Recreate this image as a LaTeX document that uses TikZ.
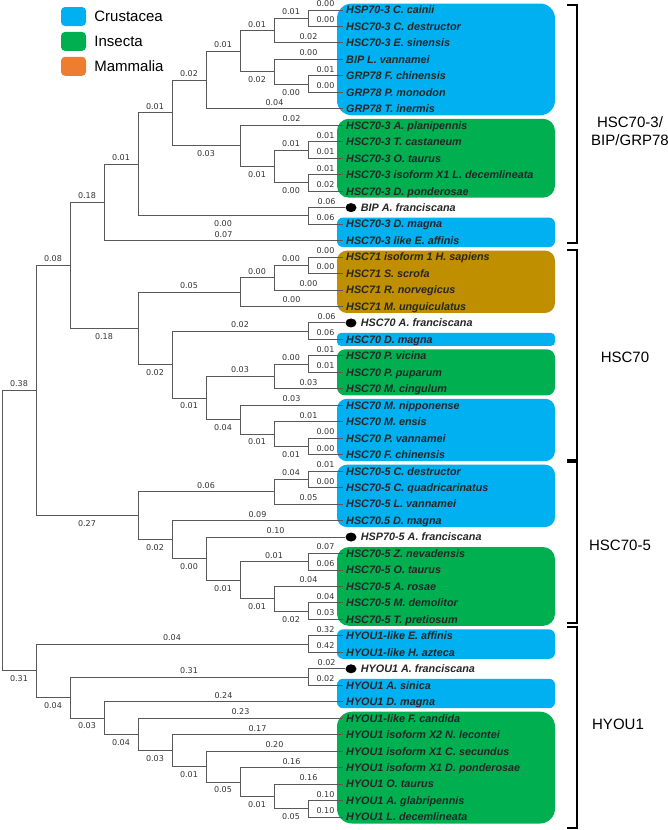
\documentclass[tikz,border=0pt]{standalone}
\usepackage{fontspec}
\setsansfont{Liberation Sans}
\newfontfamily\numfont{DejaVu Sans}
\usetikzlibrary{shapes.geometric, positioning, calc}

\definecolor{crus}{RGB}{0,176,240}
\definecolor{ins}{RGB}{0,176,80}
\definecolor{mam}{RGB}{191,143,0}
\definecolor{mamkey}{RGB}{237,125,49}

\newcommand{\leafy}[1]{10+16.47*(#1-1)}
% clade: name, level, upper child, lower child
\newcommand{\clade}[4]{\path let \p1=(#3), \p2=(#4) in ({(2+34*#2)*1pt}, {(\y1+\y2)/2}) coordinate (#1);}

\begin{document}
\begin{tikzpicture}[
    x=1pt, y=-1pt,
    every node/.style={font=\sffamily},
    leaf/.style={anchor=west, inner xsep=3pt, inner ysep=0pt, text height=7.7pt, text depth=0pt, font=\sffamily\bfseries\itshape\fontsize{10.8}{11}\selectfont, text=black!85},
    fdot/.style={ellipse, fill=black, minimum width=11pt, minimum height=9pt, inner sep=0pt},
    branch/.style={draw=black!65, line width=0.9pt},
    lenup/.style={above=2.5pt, pos=0.75, inner sep=0.5pt, font=\numfont\fontsize{8}{8}\selectfont, text=black!80},
    lendn/.style={below=4pt, pos=0.75, inner sep=0.5pt, font=\numfont\fontsize{8}{8}\selectfont, text=black!80},
    group/.style={font=\sffamily\fontsize{15}{18}\selectfont, align=center},
    keybox/.style={minimum width=25pt, minimum height=19pt, rounded corners=4pt, inner sep=0pt},
    keytext/.style={font=\sffamily\fontsize{15}{18}\selectfont, inner sep=0pt},
    bracket/.style={draw=black, line width=1.8pt}
]
\useasboundingbox (0,0) rectangle (668,830);

% Legend
\node[keybox, fill=crus] (kcrus) at (73.5,16.5) {};
\node[keybox, fill=ins, below=5.5pt of kcrus] (kins) {};
\node[keybox, fill=mamkey, below=5.5pt of kins] (kmam) {};
\node[keytext, right=8pt of kcrus] (tcrus) {Crustacea};
\node[keytext, right=8pt of kins] (tins) {Insecta};
\node[keytext, right=8pt of kmam] (tmam) {Mammalia};

% Taxon boxes
\foreach \a/\b/\c/\r in {1/7/crus/15, 8/12/ins/12, 14/15/crus/6, 16/19/mam/10, 21/21/crus/4,
    22/24/ins/8, 25/28/crus/10, 29/32/crus/10, 34/38/ins/12, 39/40/crus/6, 42/43/crus/6, 44/50/ins/15}
    \fill[\c, rounded corners=\r pt] (337,{\leafy{\a}-6.5}) rectangle (555,{\leafy{\b}+6.5});

% Leaves
\foreach \i/\txt in {1/{HSP70-3 C. cainii}, 2/{HSC70-3 C. destructor}, 3/{HSC70-3 E. sinensis},
    4/{BIP L. vannamei}, 5/{GRP78 F. chinensis}, 6/{GRP78 P. monodon}, 7/{GRP78 T. inermis},
    8/{HSC70-3 A. planipennis}, 9/{HSC70-3 T. castaneum}, 10/{HSC70-3 O. taurus},
    11/{HSC70-3 isoform X1 L. decemlineata}, 12/{HSC70-3 D. ponderosae}, 14/{HSC70-3 D. magna},
    15/{HSC70-3 like E. affinis}, 16/{HSC71 isoform 1 H. sapiens}, 17/{HSC71 S. scrofa},
    18/{HSC71 R. norvegicus}, 19/{HSC71 M. unguiculatus}, 21/{HSC70 D. magna},
    22/{HSC70 P. vicina}, 23/{HSC70 P. puparum}, 24/{HSC70 M. cingulum},
    25/{HSC70 M. nipponense}, 26/{HSC70 M. ensis}, 27/{HSC70 P. vannamei},
    28/{HSC70 F. chinensis}, 29/{HSC70-5 C. destructor}, 30/{HSC70-5 C. quadricarinatus},
    31/{HSC70-5 L. vannamei}, 32/{HSC70.5 D. magna}, 34/{HSC70-5 Z. nevadensis},
    35/{HSC70-5 O. taurus}, 36/{HSC70-5 A. rosae}, 37/{HSC70-5 M. demolitor},
    38/{HSC70-5 T. pretiosum}, 39/{HYOU1-like E. affinis}, 40/{HYOU1-like H. azteca},
    42/{HYOU1 A. sinica}, 43/{HYOU1 D. magna}, 44/{HYOU1-like F. candida},
    45/{HYOU1 isoform X2 N. lecontei}, 46/{HYOU1 isoform X1 C. secundus},
    47/{HYOU1 isoform X1 D. ponderosae}, 48/{HYOU1 O. taurus}, 49/{HYOU1 A. glabripennis},
    50/{HYOU1 L. decemlineata}}
    \node[leaf] (l\i) at (343,{\leafy{\i}}) {\txt};

% Artemia franciscana
\foreach \i/\txt in {13/{BIP A. franciscana}, 20/{HSC70 A. franciscana},
    33/{HSP70-5 A. franciscana}, 41/{HYOU1 A. franciscana}} {
    \node[fdot] (d\i) at (351,{\leafy{\i}}) {};
    \node[leaf, right=1pt of d\i] (l\i) {\txt};
}

% Clades
\clade{a1}{9}{l1}{l2}   \clade{a2}{8}{a1}{l3}   \clade{a3}{9}{l5}{l6}
\clade{a4}{8}{l4}{a3}   \clade{a5}{7}{a2}{a4}   \clade{a6}{6}{a5}{l7}
\clade{a7}{9}{l9}{l10}  \clade{a8}{9}{l11}{l12} \clade{a9}{8}{a7}{a8}
\clade{a10}{7}{l8}{a9}  \clade{a11}{5}{a6}{a10} \clade{a12}{9}{d13}{l14}
\clade{a13}{4}{a11}{a12} \clade{a14}{3}{a13}{l15}
\clade{b1}{9}{l16}{l17} \clade{b2}{8}{b1}{l18}  \clade{b3}{7}{b2}{l19}
\clade{b4}{9}{d20}{l21} \clade{b5}{9}{l22}{l23} \clade{b6}{8}{b5}{l24}
\clade{b7}{9}{l27}{l28} \clade{b8}{8}{l26}{b7}  \clade{b9}{7}{l25}{b8}
\clade{b10}{6}{b6}{b9}  \clade{b11}{5}{b4}{b10} \clade{b12}{4}{b3}{b11}
\clade{m}{2}{a14}{b12}
\clade{c1}{9}{l29}{l30} \clade{c2}{8}{c1}{l31}  \clade{c3}{9}{l34}{l35}
\clade{c4}{9}{l37}{l38} \clade{c5}{8}{l36}{c4}  \clade{c6}{7}{c3}{c5}
\clade{c7}{6}{d33}{c6}  \clade{c8}{5}{l32}{c7}  \clade{c9}{4}{c2}{c8}
\clade{o}{1}{m}{c9}
\clade{e1}{9}{l39}{l40} \clade{e2}{9}{d41}{l42} \clade{e3}{9}{l49}{l50}
\clade{e4}{8}{l48}{e3}  \clade{e5}{7}{l47}{e4}  \clade{e6}{6}{l46}{e5}
\clade{e7}{5}{l45}{e6}  \clade{e8}{4}{l44}{e7}  \clade{e9}{3}{l43}{e8}
\clade{e10}{2}{e2}{e9}  \clade{p}{1}{e1}{e10}
\clade{root}{0}{o}{p}

% HSC70-3/BIP/GRP78
\draw[branch] (a1) |- node[lenup]{0.00} (l1.west);
\draw[branch] (a1) |- node[lenup]{0.00} (l2.west);
\draw[branch] (a2) |- node[lenup]{0.01} (a1);
\draw[branch] (a2) |- node[lenup]{0.02} (l3.west);
\draw[branch] (a3) |- node[lenup]{0.01} (l5.west);
\draw[branch] (a3) |- node[lenup]{0.00} (l6.west);
\draw[branch] (a4) |- node[lenup]{0.00} (l4.west);
\draw[branch] (a4) |- node[lendn]{0.00} (a3);
\draw[branch] (a5) |- node[lenup]{0.01} (a2);
\draw[branch] (a5) |- node[lendn]{0.02} (a4);
\draw[branch] (a6) |- node[lenup]{0.01} (a5);
\draw[branch] (a6) |- node[lenup]{0.04} (l7.west);
\draw[branch] (a7) |- node[lenup]{0.01} (l9.west);
\draw[branch] (a7) |- node[lenup]{0.01} (l10.west);
\draw[branch] (a8) |- node[lenup]{0.01} (l11.west);
\draw[branch] (a8) |- node[lenup]{0.02} (l12.west);
\draw[branch] (a9) |- node[lenup]{0.01} (a7);
\draw[branch] (a9) |- node[lendn]{0.00} (a8);
\draw[branch] (a10) |- node[lenup]{0.02} (l8.west);
\draw[branch] (a10) |- node[lendn]{0.01} (a9);
\draw[branch] (a11) |- node[lenup]{0.02} (a6);
\draw[branch] (a11) |- node[lendn]{0.03} (a10);
\draw[branch] (a12) |- node[lenup]{0.06} (d13);
\draw[branch] (a12) |- node[lenup]{0.06} (l14.west);
\draw[branch] (a13) |- node[lenup]{0.01} (a11);
\draw[branch] (a13) |- node[lendn]{0.00} (a12);
\draw[branch] (a14) |- node[lenup]{0.01} (a13);
\draw[branch] (a14) |- node[lenup]{0.07} (l15.west);

% HSC70
\draw[branch] (b1) |- node[lenup]{0.00} (l16.west);
\draw[branch] (b1) |- node[lenup]{0.00} (l17.west);
\draw[branch] (b2) |- node[lenup]{0.00} (b1);
\draw[branch] (b2) |- node[lenup]{0.00} (l18.west);
\draw[branch] (b3) |- node[lenup]{0.00} (b2);
\draw[branch] (b3) |- node[lenup]{0.00} (l19.west);
\draw[branch] (b4) |- node[lenup]{0.06} (d20);
\draw[branch] (b4) |- node[lenup]{0.06} (l21.west);
\draw[branch] (b5) |- node[lenup]{0.01} (l22.west);
\draw[branch] (b5) |- node[lenup]{0.01} (l23.west);
\draw[branch] (b6) |- node[lenup]{0.00} (b5);
\draw[branch] (b6) |- node[lenup]{0.03} (l24.west);
\draw[branch] (b7) |- node[lenup]{0.00} (l27.west);
\draw[branch] (b7) |- node[lenup]{0.00} (l28.west);
\draw[branch] (b8) |- node[lenup]{0.01} (l26.west);
\draw[branch] (b8) |- node[lendn]{0.01} (b7);
\draw[branch] (b9) |- node[lenup]{0.03} (l25.west);
\draw[branch] (b9) |- node[lendn]{0.01} (b8);
\draw[branch] (b10) |- node[lenup]{0.03} (b6);
\draw[branch] (b10) |- node[lendn]{0.04} (b9);
\draw[branch] (b11) |- node[lenup]{0.02} (b4);
\draw[branch] (b11) |- node[lendn]{0.01} (b10);
\draw[branch] (b12) |- node[lenup]{0.05} (b3);
\draw[branch] (b12) |- node[lendn]{0.02} (b11);
\draw[branch] (m) |- node[lenup]{0.18} (a14);
\draw[branch] (m) |- node[lendn]{0.18} (b12);

% HSC70-5
\draw[branch] (c1) |- node[lenup]{0.01} (l29.west);
\draw[branch] (c1) |- node[lenup]{0.00} (l30.west);
\draw[branch] (c2) |- node[lenup]{0.04} (c1);
\draw[branch] (c2) |- node[lenup]{0.05} (l31.west);
\draw[branch] (c3) |- node[lenup]{0.07} (l34.west);
\draw[branch] (c3) |- node[lenup]{0.06} (l35.west);
\draw[branch] (c4) |- node[lenup]{0.04} (l37.west);
\draw[branch] (c4) |- node[lenup]{0.03} (l38.west);
\draw[branch] (c5) |- node[lenup]{0.04} (l36.west);
\draw[branch] (c5) |- node[lendn]{0.02} (c4);
\draw[branch] (c6) |- node[lenup]{0.01} (c3);
\draw[branch] (c6) |- node[lendn]{0.01} (c5);
\draw[branch] (c7) |- node[lenup]{0.10} (d33);
\draw[branch] (c7) |- node[lendn]{0.01} (c6);
\draw[branch] (c8) |- node[lenup]{0.09} (l32.west);
\draw[branch] (c8) |- node[lendn]{0.00} (c7);
\draw[branch] (c9) |- node[lenup]{0.06} (c2);
\draw[branch] (c9) |- node[lendn]{0.02} (c8);
\draw[branch] (o) |- node[lenup]{0.08} (m);
\draw[branch] (o) |- node[lendn]{0.27} (c9);

% HYOU1
\draw[branch] (e1) |- node[lenup]{0.32} (l39.west);
\draw[branch] (e1) |- node[lenup]{0.42} (l40.west);
\draw[branch] (e2) |- node[lenup]{0.02} (d41);
\draw[branch] (e2) |- node[lenup]{0.02} (l42.west);
\draw[branch] (e3) |- node[lenup]{0.10} (l49.west);
\draw[branch] (e3) |- node[lenup]{0.10} (l50.west);
\draw[branch] (e4) |- node[lenup]{0.16} (l48.west);
\draw[branch] (e4) |- node[lendn]{0.05} (e3);
\draw[branch] (e5) |- node[lenup]{0.16} (l47.west);
\draw[branch] (e5) |- node[lendn]{0.01} (e4);
\draw[branch] (e6) |- node[lenup]{0.20} (l46.west);
\draw[branch] (e6) |- node[lendn]{0.05} (e5);
\draw[branch] (e7) |- node[lenup]{0.17} (l45.west);
\draw[branch] (e7) |- node[lendn]{0.01} (e6);
\draw[branch] (e8) |- node[lenup]{0.23} (l44.west);
\draw[branch] (e8) |- node[lendn]{0.03} (e7);
\draw[branch] (e9) |- node[lenup]{0.24} (l43.west);
\draw[branch] (e9) |- node[lendn]{0.04} (e8);
\draw[branch] (e10) |- node[lenup]{0.31} (e2);
\draw[branch] (e10) |- node[lendn]{0.03} (e9);
\draw[branch] (p) |- node[lenup]{0.04} (e1);
\draw[branch] (p) |- node[lendn]{0.04} (e10);
\draw[branch] (root) |- node[lenup]{0.38} (o);
\draw[branch] (root) |- node[lendn]{0.31} (p);

% Groups
\foreach \t/\b in {5/243, 250/460, 462/623, 627/828}
    \draw[bracket] (567,\t) -- (577,\t) -- (577,\b) -- (567,\b);
\node[group] (g1) at (630,131) {HSC70-3/\\BIP/GRP78};
\node[group] (g2) at (625,357) {HSC70};
\node[group] (g3) at (620,545) {HSC70-5};
\node[group] (g4) at (618,724) {HYOU1};

\end{tikzpicture}
\end{document}
